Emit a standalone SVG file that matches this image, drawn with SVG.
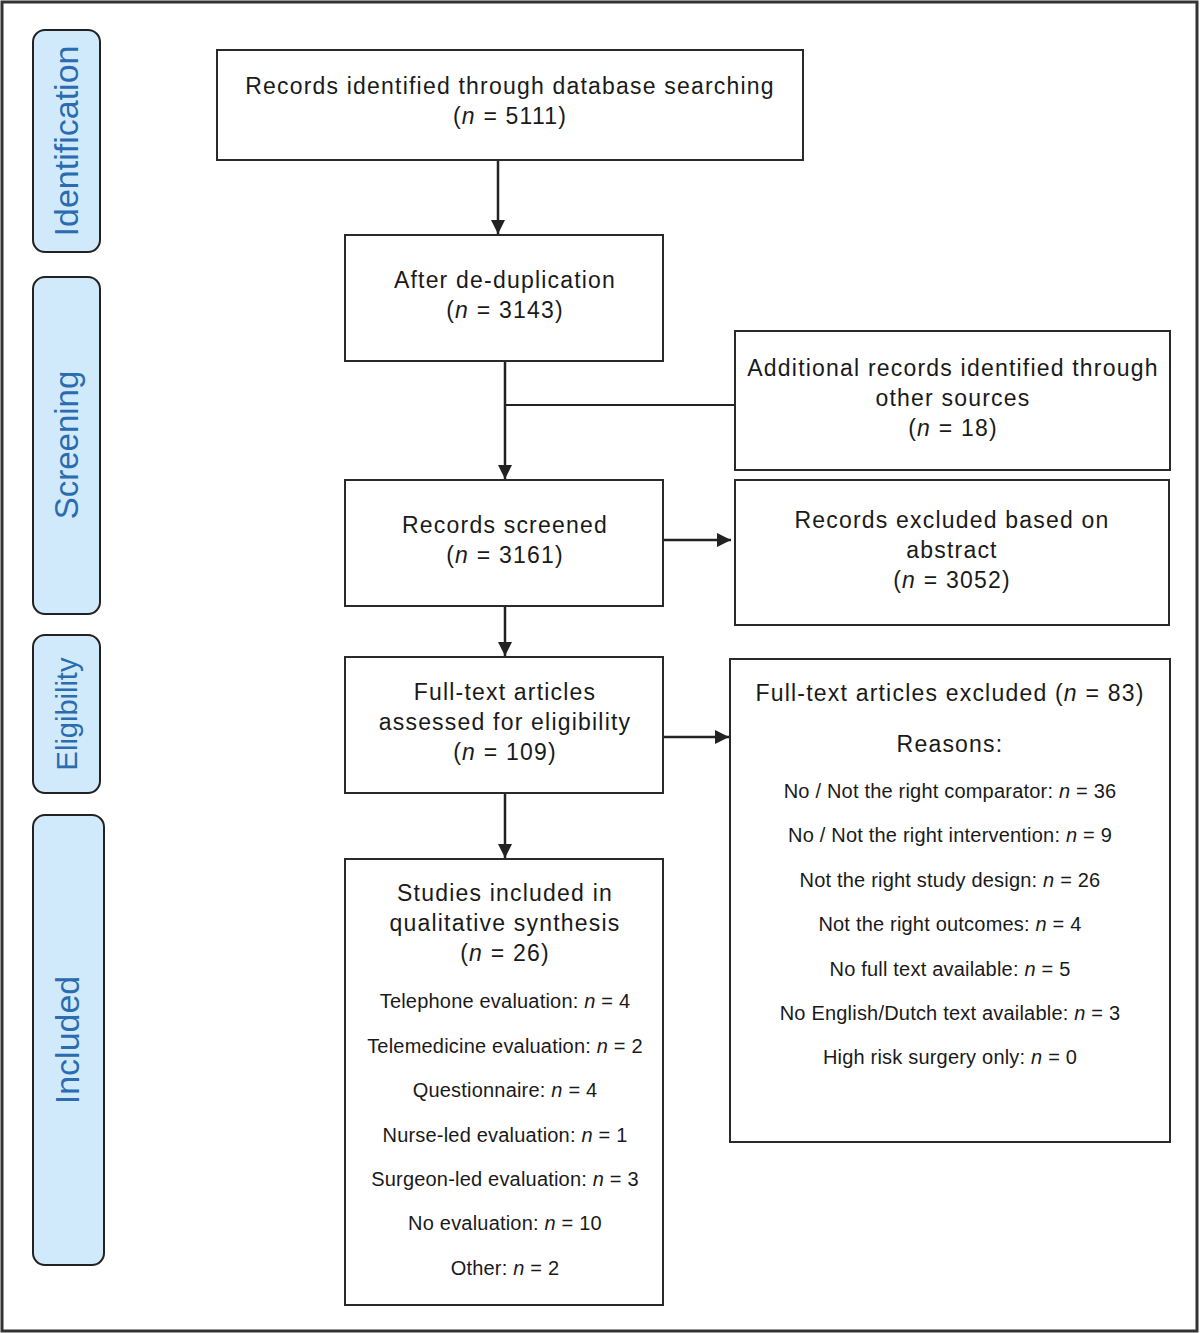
<svg xmlns="http://www.w3.org/2000/svg" width="1200" height="1333" viewBox="0 0 1200 1333">
<defs>
<marker id="ah" viewBox="0 0 14 14" refX="14" refY="7" markerWidth="14" markerHeight="14" markerUnits="userSpaceOnUse" orient="auto"><path d="M0,0 L14,7 L0,14 z" fill="#222"/></marker>
<style>
.box{fill:#fff;stroke:#2a2a2a;stroke-width:2}
.side{fill:#d1eafb;stroke:#222;stroke-width:2}
.st{font-family:"Liberation Sans",Arial,sans-serif;fill:#2b6cb0;text-anchor:middle}
.h{font-family:"Liberation Sans",Arial,sans-serif;font-size:23px;letter-spacing:1.2px;fill:#1a1a1a;text-anchor:middle}
.i{font-family:"Liberation Sans",Arial,sans-serif;font-size:20px;letter-spacing:0.2px;fill:#1a1a1a;text-anchor:middle}
.ln{stroke:#222;stroke-width:2.5;fill:none}
</style>
</defs>
<rect x="0" y="0" width="1200" height="1333" fill="#fff"/>
<rect x="2" y="2" width="1195" height="1329" fill="none" stroke="#333" stroke-width="3"/>
<g id="side-identification"><rect class="side" x="33" y="30" width="67" height="222" rx="12"/><text class="st" font-size="34" transform="translate(78,141) rotate(-90)">Identification</text></g>
<g id="side-screening"><rect class="side" x="33" y="277" width="67" height="337" rx="12"/><text class="st" font-size="33" transform="translate(78,445) rotate(-90)">Screening</text></g>
<g id="side-eligibility"><rect class="side" x="33" y="635" width="67" height="158" rx="12"/><text class="st" font-size="29" transform="translate(77,714) rotate(-90)">Eligibility</text></g>
<g id="side-included"><rect class="side" x="33" y="815" width="71" height="450" rx="12"/><text class="st" font-size="34" transform="translate(79,1040) rotate(-90)">Included</text></g>

<g id="connectors">
<line class="ln" x1="498" y1="160" x2="498" y2="234" marker-end="url(#ah)"/>
<line class="ln" x1="505" y1="361" x2="505" y2="479" marker-end="url(#ah)"/>
<line class="ln" x1="505" y1="405" x2="735" y2="405" style="stroke-width:2"/>
<line class="ln" x1="663" y1="540" x2="731" y2="540" marker-end="url(#ah)"/>
<line class="ln" x1="505" y1="606" x2="505" y2="656" marker-end="url(#ah)"/>
<line class="ln" x1="663" y1="737" x2="729" y2="737" marker-end="url(#ah)"/>
<line class="ln" x1="505" y1="793" x2="505" y2="858" marker-end="url(#ah)"/>
</g>

<g id="n1"><rect class="box" x="217" y="50" width="586" height="110"/>
<text class="h" x="510" y="94">Records identified through database searching</text>
<text class="h" x="510" y="124">(<tspan font-style="italic">n</tspan> = 5111)</text></g>

<g id="n2"><rect class="box" x="345" y="235" width="318" height="126"/>
<text class="h" x="505" y="288">After de-duplication</text>
<text class="h" x="505" y="318">(<tspan font-style="italic">n</tspan> = 3143)</text></g>

<g id="n3"><rect class="box" x="735" y="331" width="435" height="139"/>
<text class="h" x="953" y="376">Additional records identified through</text>
<text class="h" x="953" y="406">other sources</text>
<text class="h" x="953" y="436">(<tspan font-style="italic">n</tspan> = 18)</text></g>

<g id="n4"><rect class="box" x="345" y="480" width="318" height="126"/>
<text class="h" x="505" y="533">Records screened</text>
<text class="h" x="505" y="563">(<tspan font-style="italic">n</tspan> = 3161)</text></g>

<g id="n5"><rect class="box" x="735" y="480" width="434" height="145"/>
<text class="h" x="952" y="528">Records excluded based on</text>
<text class="h" x="952" y="558">abstract</text>
<text class="h" x="952" y="588">(<tspan font-style="italic">n</tspan> = 3052)</text></g>

<g id="n6"><rect class="box" x="345" y="657" width="318" height="136"/>
<text class="h" x="505" y="700">Full-text articles</text>
<text class="h" x="505" y="730">assessed for eligibility</text>
<text class="h" x="505" y="760">(<tspan font-style="italic">n</tspan> = 109)</text></g>

<g id="n7"><rect class="box" x="730" y="659" width="440" height="483"/>
<text class="h" x="950" y="701">Full-text articles excluded (<tspan font-style="italic">n</tspan> = 83)</text>
<text class="h" x="950" y="752">Reasons:</text>
<text class="i" x="950" y="798">No / Not the right comparator: <tspan font-style="italic">n</tspan> = 36</text>
<text class="i" x="950" y="842">No / Not the right intervention: <tspan font-style="italic">n</tspan> = 9</text>
<text class="i" x="950" y="887">Not the right study design: <tspan font-style="italic">n</tspan> = 26</text>
<text class="i" x="950" y="931">Not the right outcomes: <tspan font-style="italic">n</tspan> = 4</text>
<text class="i" x="950" y="976">No full text available: <tspan font-style="italic">n</tspan> = 5</text>
<text class="i" x="950" y="1020">No English/Dutch text available: <tspan font-style="italic">n</tspan> = 3</text>
<text class="i" x="950" y="1064">High risk surgery only: <tspan font-style="italic">n</tspan> = 0</text></g>

<g id="n8"><rect class="box" x="345" y="859" width="318" height="446"/>
<text class="h" x="505" y="901">Studies included in</text>
<text class="h" x="505" y="931">qualitative synthesis</text>
<text class="h" x="505" y="961">(<tspan font-style="italic">n</tspan> = 26)</text>
<text class="i" x="505" y="1008">Telephone evaluation: <tspan font-style="italic">n</tspan> = 4</text>
<text class="i" x="505" y="1053">Telemedicine evaluation: <tspan font-style="italic">n</tspan> = 2</text>
<text class="i" x="505" y="1097">Questionnaire: <tspan font-style="italic">n</tspan> = 4</text>
<text class="i" x="505" y="1142">Nurse-led evaluation: <tspan font-style="italic">n</tspan> = 1</text>
<text class="i" x="505" y="1186">Surgeon-led evaluation: <tspan font-style="italic">n</tspan> = 3</text>
<text class="i" x="505" y="1230">No evaluation: <tspan font-style="italic">n</tspan> = 10</text>
<text class="i" x="505" y="1275">Other: <tspan font-style="italic">n</tspan> = 2</text></g>
</svg>
